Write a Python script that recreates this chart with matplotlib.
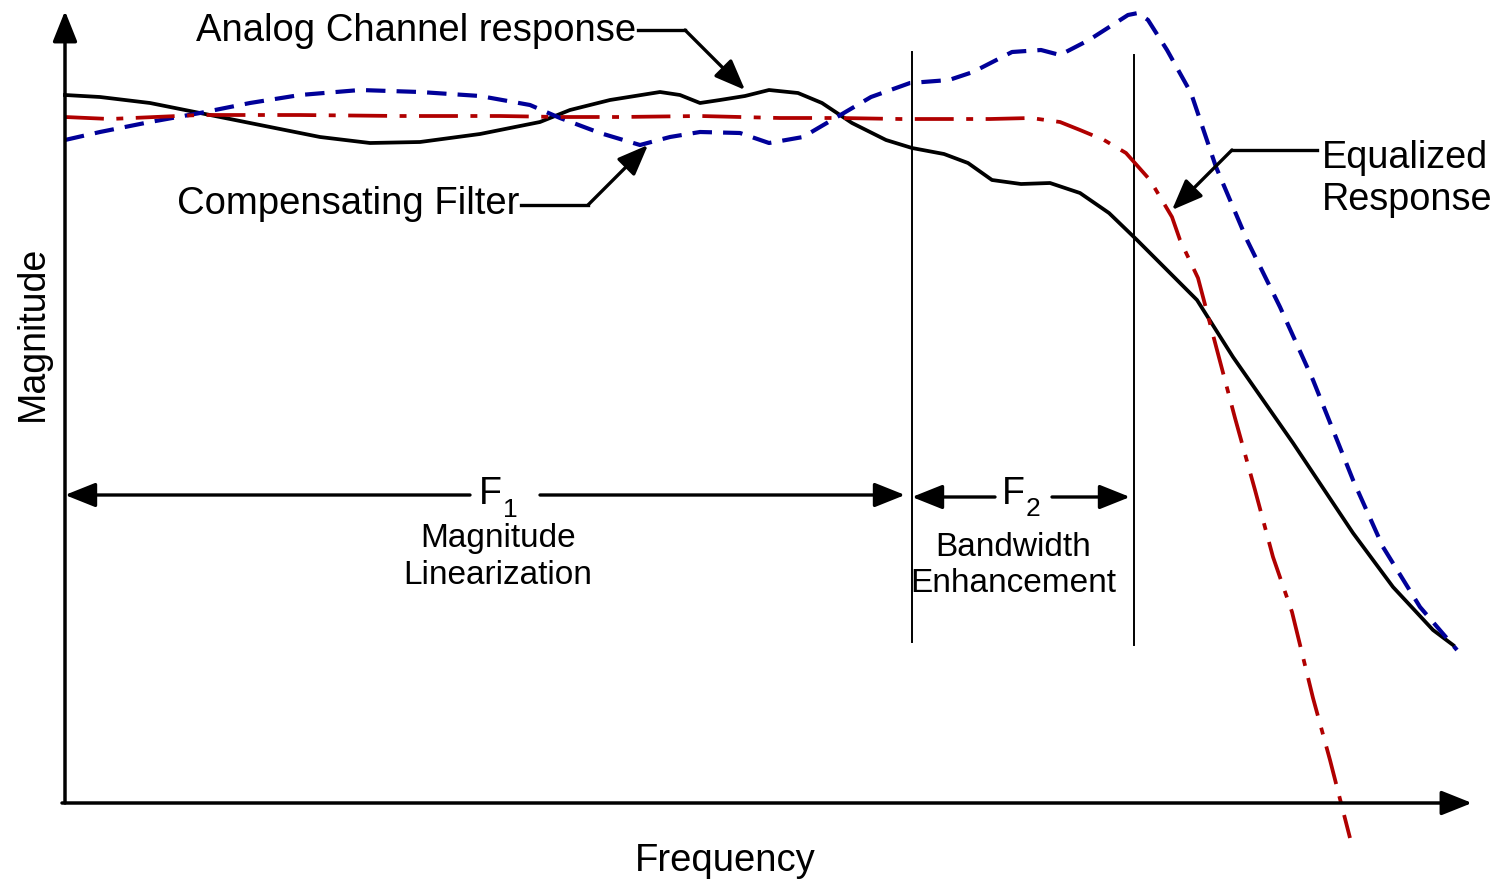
import matplotlib
matplotlib.use("Agg")
import matplotlib.pyplot as plt

plt.rcParams['font.family'] = ['Liberation Sans', 'DejaVu Sans']
plt.rcParams['lines.scale_dashes'] = False

# Curves: frequency (arbitrary units) and magnitude (arbitrary units)
channel_freq = [0, 35, 85, 135, 195, 255, 305, 355, 415, 475, 505, 545, 595, 615, 635, 655, 680, 704,
                733, 757, 787, 821, 847, 879, 903, 927, 956, 985, 1015, 1044, 1072, 1102, 1132, 1168,
                1198, 1228, 1258, 1288, 1328, 1368, 1388]
channel_mag = [708, 706, 700, 690, 678, 666, 660, 661, 669, 681, 693, 703, 711, 708, 700, 703, 707, 713,
               710, 700, 680, 663, 655, 649, 640, 623, 619, 620, 610, 590, 563, 533, 503, 446,
               403, 360, 315, 270, 216, 173, 158]

filter_freq = [0, 35, 85, 135, 185, 235, 295, 355, 415, 465, 495, 535, 575, 605, 635, 675, 704, 738,
               772, 806, 845, 884, 908, 947, 976, 995, 1024, 1063, 1073, 1083, 1102, 1126, 1151, 1182,
               1215, 1248, 1288, 1318, 1355, 1392]
filter_mag = [663, 671, 681, 690, 700, 708, 713, 711, 707, 698, 685, 670, 658, 666, 671, 670, 660, 666,
              686, 706, 720, 723, 731, 751, 753, 748, 763, 788, 790, 783, 753, 710, 636, 563,
              496, 423, 323, 256, 196, 153]

equalized_freq = [0, 45, 135, 235, 335, 435, 495, 555, 635, 715, 775, 835, 925, 966, 995, 1015, 1039,
                  1061, 1085, 1107, 1115, 1133, 1152, 1170, 1190, 1208, 1227, 1248, 1265, 1285]
equalized_mag = [686, 684, 688, 688, 687, 687, 686, 686, 687, 685, 685, 684, 684, 685, 681, 673, 663,
                 650, 623, 586, 563, 525, 453, 385, 313, 246, 191, 105, 43, -35]

band_edges = [847, 1069]

fig = plt.figure(figsize=(15.01, 8.81), dpi=100)
ax = fig.add_axes([0, 0, 1, 1])
ax.set_xlim(-65, 1436)
ax.set_ylim(-78, 803)
ax.axis('off')

K = 'black'
head = '-|>,head_length=0.75,head_width=0.3'

def arrow(tip, start, lw=2.4):
    ax.annotate('', xy=tip, xytext=start,
                arrowprops=dict(arrowstyle=head, mutation_scale=25, lw=lw, color=K,
                                shrinkA=0, shrinkB=0))

# axes
arrow((0, 792), (0, 0), lw=2.5)
arrow((1407, 0), (-3, 0), lw=2.5)

# band edge lines
ax.plot([band_edges[0]] * 2, [161, 751], color=K, lw=1.4)
ax.plot([band_edges[1]] * 2, [158, 748], color=K, lw=1.4)

# curves
ax.plot(channel_freq, channel_mag, color=K, lw=2.7, solid_joinstyle='round')
ax.plot(filter_freq, filter_mag, color='#000099', lw=3.0, dashes=(14, 8), dash_joinstyle='round')
ax.plot(equalized_freq, equalized_mag, color='#b00000', lw=2.7, dashes=(28, 9, 5, 9),
        dash_joinstyle='round')

# F1 / F2 arrows
arrow((0, 308), (405, 308))
arrow((840, 308), (475, 308))
ax.text(425, 309, 'F', fontsize=27, ha='center', va='center')
ax.text(445, 293, '1', fontsize=19, ha='center', va='center')
ax.text(433, 264, 'Magnitude', fontsize=24, ha='center', va='center')
ax.text(433, 227, 'Linearization', fontsize=24, ha='center', va='center')

arrow((847, 306), (930, 306))
arrow((1065, 306), (987, 306))
ax.text(948, 309, 'F', fontsize=27, ha='center', va='center')
ax.text(968, 294, '2', fontsize=19, ha='center', va='center')
ax.text(948, 256, 'Bandwidth', fontsize=24, ha='center', va='center')
ax.text(948, 219, 'Enhancement', fontsize=24, ha='center', va='center')

# callouts
ax.text(571, 772, 'Analog Channel response', fontsize=27.5, ha='right', va='center')
ax.plot([573, 620], [773, 773], color=K, lw=2.4)
arrow((680, 713), (620, 773))

ax.text(454, 599, 'Compensating Filter', fontsize=27.5, ha='right', va='center')
ax.plot([456, 523], [598, 598], color=K, lw=2.4)
arrow((583, 658), (523, 598))

ax.text(1257, 645, 'Equalized', fontsize=27.3, ha='left', va='center')
ax.text(1257, 603, 'Response', fontsize=27.3, ha='left', va='center')
ax.plot([1252, 1167], [653, 653], color=K, lw=2.4)
arrow((1107, 593), (1167, 653))

# axis titles
ax.text(-32, 470, 'Magnitude', fontsize=27, rotation=90, ha='center', va='center')
ax.text(660, -58, 'Frequency', fontsize=27.5, ha='center', va='center')

fig.savefig('out.png', dpi=100)
